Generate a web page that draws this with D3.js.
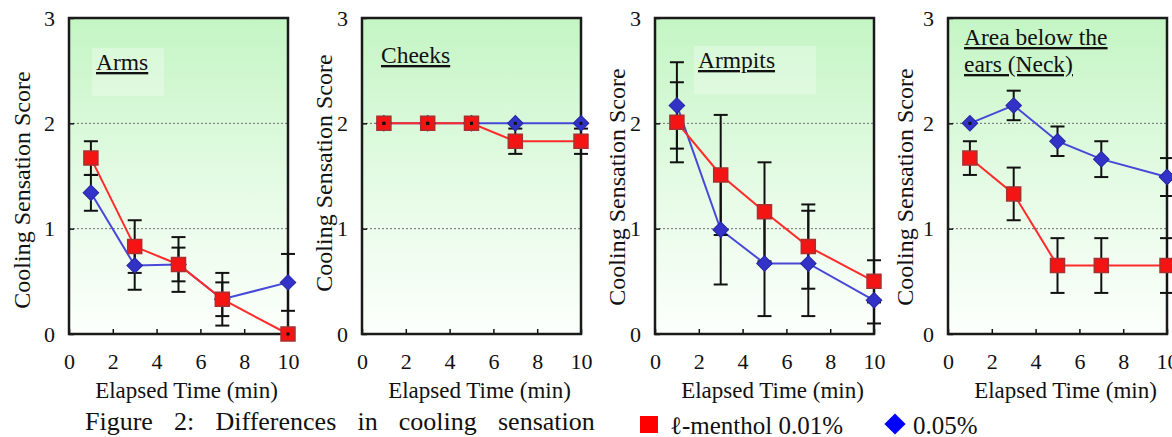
<!DOCTYPE html>
<html>
<head>
<meta charset="utf-8">
<script src="https://cdn.jsdelivr.net/npm/d3@7"></script>
<style>
  body { margin: 0; background: #fff; }
  svg, svg text { font-family: "Liberation Serif", Tinos, "Times New Roman", Times, "DejaVu Serif", serif !important; }
</style>
</head>
<body>
<svg id="chart"></svg>
<script>
// time points (min)
const times = [1, 3, 5, 7, 10];
const xTicks = [0, 2, 4, 6, 8, 10];
const yTicks = [0, 1, 2, 3];
const panelNames = [["Arms"], ["Cheeks"], ["Armpits"], ["Area below the", "ears (Neck)"]];

// l-menthol 0.01% (red squares)
const armsLow = [1.67, 0.83, 0.66, 0.33, 0];
const armsLowErr = [0.16, 0.25, 0.26, 0.25, 0];
const cheeksLow = [2, 2, 2, 1.83, 1.83];
const cheeksLowErr = [0, 0, 0, 0.12, 0.12];
const armpitsLow = [2.01, 1.51, 1.16, 0.83, 0.5];
const armpitsLowErr = [0.38, 0.57, 0.47, 0.4, 0.2];
const neckLow = [1.67, 1.33, 0.65, 0.65, 0.65];
const neckLowErr = [0.16, 0.25, 0.26, 0.26, 0.26];

// 0.05% (blue diamonds)
const armsHigh = [1.34, 0.65, 0.66, 0.33, 0.49];
const armsHighErr = [0.17, 0.23, 0.16, 0.16, 0.27];
const cheeksHigh = [2, 2, 2, 2, 2];
const cheeksHighErr = [0, 0, 0, 0, 0];
const armpitsHigh = [2.17, 0.99, 0.67, 0.67, 0.32];
const armpitsHighErr = [0.41, 0.52, 0.5, 0.5, 0.22];
const neckHigh = [2, 2.17, 1.83, 1.66, 1.49];
const neckHighErr = [0, 0.14, 0.14, 0.17, 0.18];

const lowSeries = [armsLow, cheeksLow, armpitsLow, neckLow];
const lowErrs = [armsLowErr, cheeksLowErr, armpitsLowErr, neckLowErr];
const highSeries = [armsHigh, cheeksHigh, armpitsHigh, neckHigh];
const highErrs = [armsHighErr, cheeksHighErr, armpitsHighErr, neckHighErr];

// layout
const W = 1172, H = 437;
const panelW = 219, panelTop = 18, panelH = 316;
const panelLefts = [69, 362, 655, 948];
const yTitleOff = [-39, -30, -30, -35];
const yTitleMid = [190, 173, 187, 187];
const titleX = [27, 19, 43, 16];
const titleY = [70, 63, 68, 45];
const titleBox = [true, false, true, false];

const RED = "#f41414", RED_LINE = "#ff2a2a", BLUE = "#3232c8", BLUE_LINE = "#4848d8";

const svg = d3.select("#chart").attr("width", W).attr("height", H);

const defs = svg.append("defs");
const grad = defs.append("linearGradient")
    .attr("id", "bg").attr("x1", 0).attr("y1", 0).attr("x2", 0).attr("y2", 1);
grad.append("stop").attr("offset", "0%").attr("stop-color", "#c4f5c4");
grad.append("stop").attr("offset", "55%").attr("stop-color", "#e6fbe6");
grad.append("stop").attr("offset", "100%").attr("stop-color", "#fcfffc");

const xscale = d3.scaleLinear().domain([0, 10]).range([0, panelW]);
const yscale = d3.scaleLinear().domain([0, 3]).range([panelH, 0]);

const squareSym = d3.symbol(d3.symbolSquare, 14 * 14);
const diamondSym = d3.symbol(d3.symbolSquare, 11 * 11);

panelNames.forEach((name, i) => {
    const g = svg.append("g")
        .attr("transform", `translate(${panelLefts[i]}, ${panelTop})`);

    g.append("rect")
        .attr("width", panelW).attr("height", panelH)
        .attr("fill", "url(#bg)");

    if (titleBox[i]) {
        g.append("rect")
            .attr("x", titleX[i] - 4).attr("y", titleY[i] - 40)
            .attr("width", 72 + (i === 2 ? 50 : 0)).attr("height", 48)
            .attr("fill", "#fff").attr("opacity", 0.3);
    }

    // dotted grid at 1 and 2
    g.selectAll(".grid")
        .data([1, 2])
        .join("line")
        .attr("x1", 0).attr("x2", panelW)
        .attr("y1", d => yscale(d)).attr("y2", d => yscale(d))
        .attr("stroke", "#6e6e6e").attr("stroke-width", 1)
        .attr("stroke-dasharray", "2,2");

    // axes with inner ticks
    const xaxis = d3.axisBottom(xscale).tickValues(xTicks).tickFormat(d3.format("d"))
        .tickSize(-5).tickPadding(19);
    const yaxis = d3.axisLeft(yscale).tickValues(yTicks).tickFormat(d3.format("d"))
        .tickSize(-5).tickPadding(14);

    const xg = g.append("g").attr("transform", `translate(0, ${panelH})`).call(xaxis);
    const yg = g.append("g").call(yaxis);
    [xg, yg].forEach(a => {
        a.attr("font-family", null);
        a.select(".domain").remove();
        a.selectAll("line").attr("stroke", "#111").attr("stroke-width", 1.5);
        a.selectAll("text")
            .attr("font-size", "22px")
            .attr("fill", "#111");
    });

    // frame
    g.append("rect")
        .attr("width", panelW).attr("height", panelH)
        .attr("fill", "none").attr("stroke", "#1a1a1a").attr("stroke-width", 2.5);

    // axis titles
    g.append("text")
        .attr("transform", `translate(${yTitleOff[i]}, ${yTitleMid[i] - panelTop}) rotate(-90)`)
        .attr("text-anchor", "middle")
        .attr("font-size", "24px")
        .attr("fill", "#111")
        .text("Cooling Sensation Score");

    g.append("text")
        .attr("x", panelW / 2 + 8)
        .attr("y", 398 - panelTop)
        .attr("text-anchor", "middle")
        .attr("font-size", "23px")
        .attr("fill", "#111")
        .text("Elapsed Time (min)");

    // panel title, underlined
    g.append("text")
        .attr("x", titleX[i]).attr("y", titleY[i] - panelTop)
        .attr("font-size", "23.5px")
        .attr("fill", "#111")
        .attr("text-decoration", "underline")
        .selectAll("tspan")
        .data(name)
        .join("tspan")
        .attr("x", titleX[i])
        .attr("dy", (d, k) => k === 0 ? 0 : 27)
        .text(d => d);

    const low = times.map((t, k) => ({t: t, v: lowSeries[i][k], e: lowErrs[i][k]}));
    const high = times.map((t, k) => ({t: t, v: highSeries[i][k], e: highErrs[i][k]}));

    const line = d3.line().x(d => xscale(d.t)).y(d => yscale(d.v));

    g.append("path").datum(high).attr("d", line)
        .attr("fill", "none").attr("stroke", BLUE_LINE).attr("stroke-width", 2);
    g.append("path").datum(low).attr("d", line)
        .attr("fill", "none").attr("stroke", RED_LINE).attr("stroke-width", 2);

    // error bars
    const bars = low.concat(high).filter(d => d.e > 0);
    const eb = g.append("g").attr("stroke", "#111").attr("stroke-width", 2);
    eb.selectAll(".stem").data(bars).join("line")
        .attr("x1", d => xscale(d.t)).attr("x2", d => xscale(d.t))
        .attr("y1", d => yscale(d.v - d.e)).attr("y2", d => yscale(d.v + d.e));
    eb.selectAll(".capTop").data(bars).join("line")
        .attr("x1", d => xscale(d.t) - 7).attr("x2", d => xscale(d.t) + 7)
        .attr("y1", d => yscale(d.v + d.e)).attr("y2", d => yscale(d.v + d.e));
    eb.selectAll(".capBot").data(bars).join("line")
        .attr("x1", d => xscale(d.t) - 7).attr("x2", d => xscale(d.t) + 7)
        .attr("y1", d => yscale(d.v - d.e)).attr("y2", d => yscale(d.v - d.e));

    // markers
    g.selectAll(".dia").data(high).join("path")
        .attr("d", diamondSym)
        .attr("transform", d => `translate(${xscale(d.t)}, ${yscale(d.v)}) rotate(45)`)
        .attr("fill", BLUE).attr("stroke", "#2626a0").attr("stroke-width", 1);
    g.selectAll(".sq").data(low).join("path")
        .attr("d", squareSym)
        .attr("transform", d => `translate(${xscale(d.t)}, ${yscale(d.v)})`)
        .attr("fill", RED).attr("stroke", "#a83030").attr("stroke-width", 1.5);

    // zero-length error bars leave a tiny dot
    g.selectAll(".dot").data(low.concat(high).filter(d => d.e === 0)).join("rect")
        .attr("x", d => xscale(d.t) - 1.5).attr("y", d => yscale(d.v) - 1.5)
        .attr("width", 3).attr("height", 3).attr("fill", "#111");
});

// caption, justified and cut at the right
defs.append("clipPath").attr("id", "capclip")
    .append("rect").attr("x", 0).attr("y", 400).attr("width", 604).attr("height", 40);

const caption = svg.append("text")
    .attr("clip-path", "url(#capclip)")
    .attr("x", 85).attr("y", 430)
    .attr("font-size", "26px")
    .attr("fill", "#111")
    .text("Figure 2: Differences in cooling sensation");
const lastWord = svg.append("text").attr("font-size", "26px").text("sensation");
const natural = caption.node().getComputedTextLength();
const lastW = lastWord.node().getComputedTextLength();
lastWord.remove();
caption.attr("word-spacing", (498 - 85 + lastW - natural) / 5);

// legend
const legend = svg.append("g");
legend.append("rect")
    .attr("x", 640).attr("y", 416).attr("width", 18).attr("height", 17)
    .attr("fill", "#ff0000");
legend.append("text")
    .attr("x", 670).attr("y", 434)
    .attr("font-size", "25px").attr("fill", "#111")
    .text("ℓ-menthol 0.01%");
legend.append("path")
    .attr("d", d3.symbol(d3.symbolSquare, 15 * 15))
    .attr("transform", "translate(895, 424) rotate(45)")
    .attr("fill", "#0000ff");
legend.append("text")
    .attr("x", 913).attr("y", 434)
    .attr("font-size", "25px").attr("fill", "#111")
    .text("0.05%");
</script>
</body>
</html>
